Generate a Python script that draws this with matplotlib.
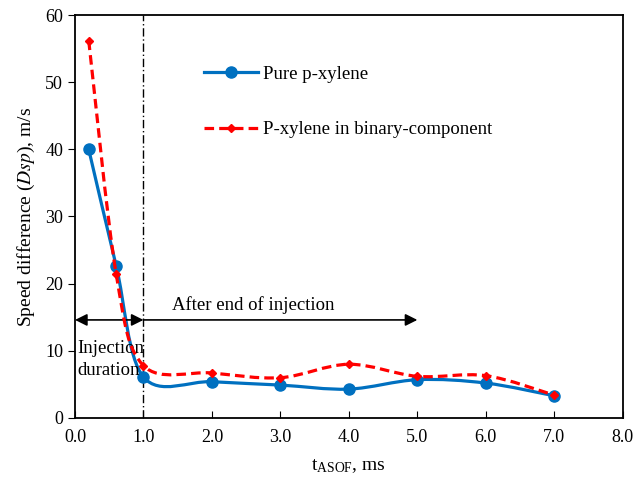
import numpy as np
import matplotlib.pyplot as plt
from matplotlib.path import Path
from matplotlib.patches import PathPatch

plt.rcParams['font.family'] = ['Liberation Serif', 'DejaVu Serif']
plt.rcParams['mathtext.fontset'] = 'stix'

# data
t = [0.2, 0.6, 1.0, 2.0, 3.0, 4.0, 5.0, 6.0, 7.0]
pure = [40.0, 22.7, 6.1, 5.4, 4.9, 4.3, 5.7, 5.2, 3.3]
binary = [56.2, 21.5, 7.8, 6.7, 6.0, 8.0, 6.2, 6.3, 3.4]
xticks = [0, 1, 2, 3, 4, 5, 6, 7, 8]
yticks = [0, 10, 20, 30, 40, 50, 60]


def smooth_path(x, y):
    # Excel-style smoothed line: cubic Bezier segments (Catmull-Rom tangents)
    p = np.column_stack([x, y])
    verts = [p[0]]
    codes = [Path.MOVETO]
    n = len(p)
    for i in range(n - 1):
        p0 = p[i - 1] if i > 0 else p[i]
        p3 = p[i + 2] if i + 2 < n else p[i + 1]
        c1 = p[i] + (p[i + 1] - p0) / 6
        c2 = p[i + 1] - (p3 - p[i]) / 6
        verts += [c1, c2, p[i + 1]]
        codes += [Path.CURVE4] * 3
    return Path(verts, codes)


fig = plt.figure(figsize=(6.44, 4.84), dpi=100)
ax = fig.add_axes([0.1165, 0.1364, 0.8505, 0.8326])

blue = '#0070C0'
red = '#FF0000'

ax.add_patch(PathPatch(smooth_path(t, pure), fill=False, ec=blue, lw=2.3, zorder=3))
ax.add_patch(PathPatch(smooth_path(t, binary), fill=False, ec=red, lw=2.3,
                       ls=(0, (3, 1.6)), zorder=4))
ax.plot(t, pure, ls='none', marker='o', ms=8, color=blue, zorder=3)
ax.plot(t, binary, ls='none', marker='D', ms=4.5, color=red, zorder=4)

# legend (no frame)
ax.plot([], [], color=blue, lw=2.3, marker='o', ms=8, label='Pure p-xylene')
ax.plot([], [], color=red, lw=2.3, ls=(0, (3, 1.6)), marker='D', ms=4.5,
        label='P-xylene in binary-component')
ax.legend(loc='upper left', bbox_to_anchor=(0.204, 0.916), frameon=False,
          fontsize=13.5, handlelength=2.9, labelspacing=2.05, handletextpad=0.27)

# end-of-injection line
ax.axvline(1.0, color='black', lw=1, ls=(0, (6, 2, 1, 2)), zorder=2)

# arrows
ax.annotate('', xy=(0.0, 14.6), xytext=(1.0, 14.6),
            arrowprops=dict(arrowstyle='<|-|>', color='black', lw=1.2,
                            mutation_scale=18, shrinkA=0, shrinkB=0))
ax.annotate('', xy=(5.0, 14.6), xytext=(1.0, 14.6),
            arrowprops=dict(arrowstyle='-|>', color='black', lw=1.2,
                            mutation_scale=18, shrinkA=0, shrinkB=0))
ax.text(1.42, 16.8, 'After end of injection', fontsize=13.5, va='center', ha='left')
ax.text(0.03, 10.4, 'Injection', fontsize=13.5, va='center', ha='left')
ax.text(0.03, 7.1, 'duration', fontsize=13.5, va='center', ha='left')

ax.set_xlim(0, 8)
ax.set_ylim(0, 60)
ax.set_xticks(xticks)
ax.set_xticklabels([f'{v:.1f}' for v in xticks])
ax.set_yticks(yticks)
ax.tick_params(axis='x', direction='in', length=5, labelsize=13, pad=8)
ax.tick_params(axis='y', direction='out', length=5, labelsize=13)
for s in ax.spines.values():
    s.set_linewidth(1.3)

ax.set_xlabel(r'$\mathregular{t_{ASOF}}$, ms', fontsize=14, labelpad=8)
ax.set_ylabel(r'Speed difference ($\mathit{Dsp}$), m/s', fontsize=14, labelpad=6)

fig.savefig('out.png', dpi=100)
